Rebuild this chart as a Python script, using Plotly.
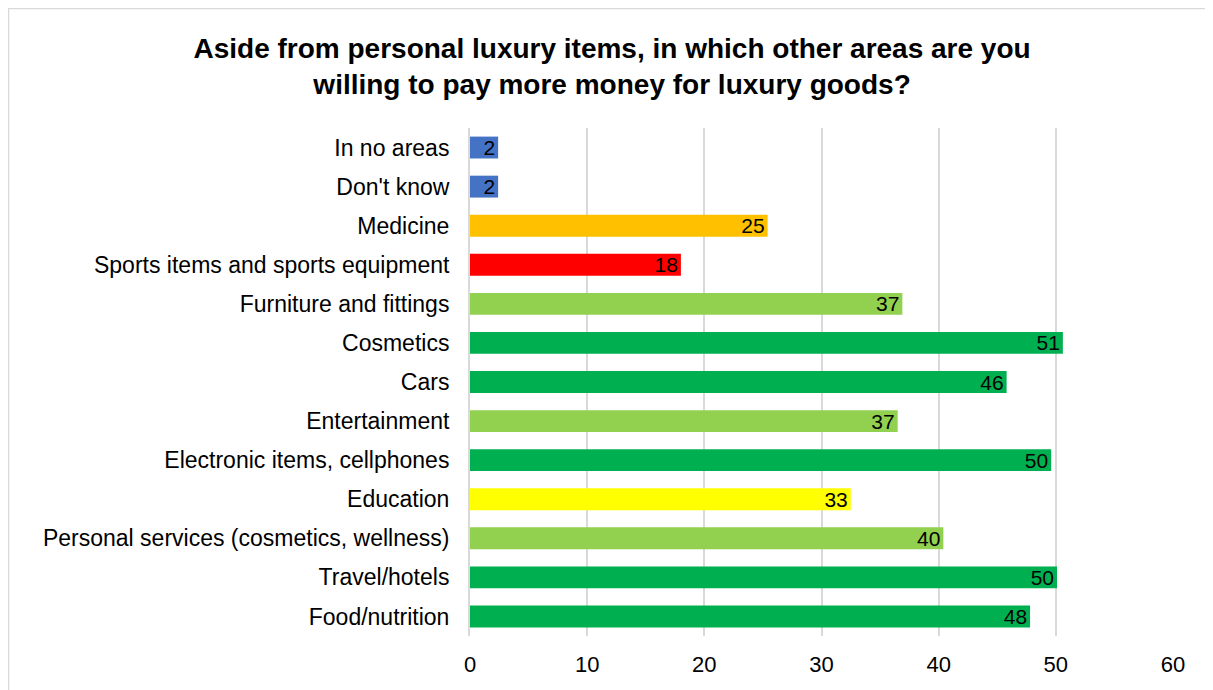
import plotly.graph_objects as go

categories = ["In no areas", "Don't know", "Medicine", "Sports items and sports equipment",
              "Furniture and fittings", "Cosmetics", "Cars", "Entertainment",
              "Electronic items, cellphones", "Education",
              "Personal services (cosmetics, wellness)", "Travel/hotels", "Food/nutrition"]
values = [2.4, 2.4, 25.4, 18.0, 36.9, 50.6, 45.8, 36.5, 49.6, 32.5, 40.4, 50.1, 47.8]
labels = ["2", "2", "25", "18", "37", "51", "46", "37", "50", "33", "40", "50", "48"]
colors = ["#4472C4", "#4472C4", "#FFC000", "#FF0000", "#92D050", "#00B050", "#00B050",
          "#92D050", "#00B050", "#FFFF00", "#92D050", "#00B050", "#00B050"]
x_ticks = [0, 10, 20, 30, 40, 50, 60]

title = "<b>Aside from personal luxury items, in which other areas are you<br>willing to pay more money for luxury goods?</b>"

FONT = "Liberation Sans, Arial, sans-serif"

fig = go.Figure(go.Bar(
    y=categories, x=values, orientation="h",
    marker=dict(color=colors, line=dict(width=0)),
    text=labels, textposition="inside", insidetextanchor="end", textangle=0,
    textfont=dict(family=FONT, size=21, color="black"),
    constraintext="none", width=0.56,
))

fig.update_layout(
    width=1213, height=690,
    margin=dict(l=462, r=48, t=120, b=62),
    paper_bgcolor="white", plot_bgcolor="white",
    font=dict(family=FONT, color="black"),
    title=dict(text=title, x=0.498, xanchor="center", y=0.928, yanchor="top",
               font=dict(family=FONT, size=28, color="black")),
    showlegend=False,
    shapes=[dict(type="rect", xref="paper", yref="paper", x0=-0.6565, x1=1.2, y0=-0.3, y1=1.2352,
                 line=dict(color="#D9D9D9", width=1.5), fillcolor="rgba(0,0,0,0)", layer="below")],
)
fig.update_xaxes(range=[0, 60], tickvals=x_ticks, showgrid=True, gridcolor="#D9D9D9", gridwidth=2,
                 zeroline=False, showline=False, ticks="outside", ticklen=9,
                 tickcolor="rgba(0,0,0,0)", tickfont=dict(size=22))
fig.update_yaxes(autorange="reversed", showgrid=False, showline=True, linecolor="#D9D9D9", linewidth=2,
                 ticks="outside", ticklen=14, tickcolor="rgba(0,0,0,0)", tickfont=dict(size=23))

fig.write_html("out.html")
